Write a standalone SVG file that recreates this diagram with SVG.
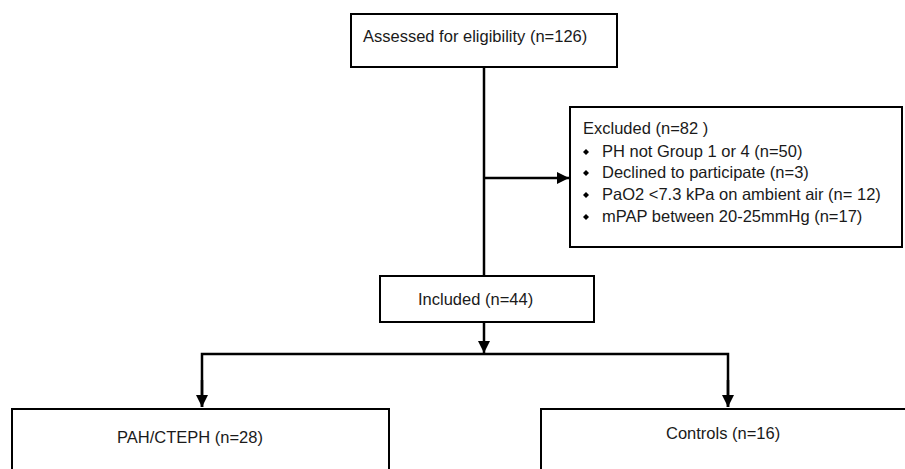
<svg xmlns="http://www.w3.org/2000/svg" width="905" height="469" viewBox="0 0 905 469">
<style>
.box{fill:#fff;stroke:#000;stroke-width:2}
.t{font-family:"Liberation Sans",Arial,sans-serif;font-size:16.5px;fill:#1a1a1a}
.c{fill:none;stroke:#000;stroke-width:2.5}
.b{fill:#000}
</style>
<defs>
<marker id="ah" markerWidth="12" markerHeight="12" refX="12" refY="6" orient="auto" markerUnits="userSpaceOnUse">
<path d="M0,0 L12,6 L0,12 Z" fill="#000"/>
</marker>
<path id="dm" d="M0,-3 L3,0 L0,3 L-3,0 Z"/>
</defs>
<g id="connectors">
<path class="c" d="M484,67 V276"/>
<path class="c" d="M484,178 H569" marker-end="url(#ah)"/>
<path class="c" d="M484,322 V353" marker-end="url(#ah)"/>
<path class="c" d="M202,407 V354 H728 V407"/>
<path class="c" d="M202,380 V407" marker-end="url(#ah)"/>
<path class="c" d="M728,380 V407" marker-end="url(#ah)"/>
</g>
<g id="assessed">
<rect class="box" x="351" y="14" width="266" height="53"/>
<text class="t" x="363" y="42">Assessed for eligibility (n=126)</text>
</g>
<g id="excluded">
<rect class="box" x="570" y="107" width="332" height="140"/>
<text class="t" x="583" y="134">Excluded  (n=82 )</text>
<use href="#dm" class="b" x="586" y="152"/>
<text class="t" x="602" y="157">PH not Group 1 or 4 (n=50)</text>
<use href="#dm" class="b" x="586" y="173"/>
<text class="t" x="602" y="178">Declined to participate (n=3)</text>
<use href="#dm" class="b" x="586" y="195"/>
<text class="t" x="602" y="200">PaO2 &lt;7.3 kPa on ambient air (n= 12)</text>
<use href="#dm" class="b" x="586" y="217"/>
<text class="t" x="602" y="222">mPAP between 20-25mmHg (n=17)</text>
</g>
<g id="included">
<rect class="box" x="380" y="276" width="214" height="46"/>
<text class="t" x="418" y="305">Included (n=44)</text>
</g>
<g id="pah">
<rect class="box" x="12" y="409" width="377" height="80"/>
<text class="t" x="117" y="443">PAH/CTEPH (n=28)</text>
</g>
<g id="controls">
<rect class="box" x="541" y="409" width="380" height="80"/>
<text class="t" x="666" y="439">Controls (n=16)</text>
</g>
</svg>
